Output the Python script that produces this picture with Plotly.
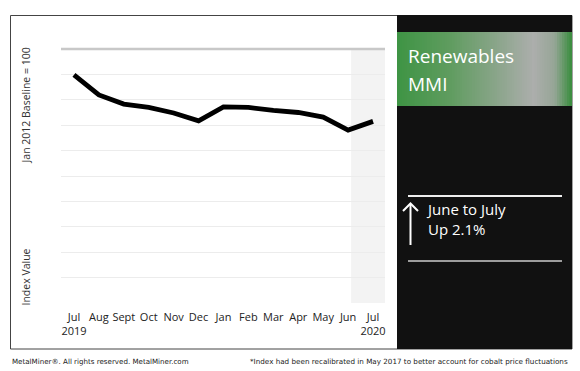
import plotly.graph_objects as go

months = ["Jul", "Aug", "Sept", "Oct", "Nov", "Dec", "Jan", "Feb", "Mar", "Apr", "May", "Jun", "Jul"]
tick_labels = ["Jul<br>2019", "Aug", "Sept", "Oct", "Nov", "Dec", "Jan", "Feb", "Mar", "Apr", "May", "Jun", "Jul<br>2020"]
index_values = [89.8, 81.9, 78.3, 77.0, 74.8, 71.7, 77.2, 77.0, 75.8, 75.0, 73.2, 68.1, 71.5]

title_lines = ["Renewables", "MMI"]
change_lines = ["June to July", "Up 2.1%"]
y_title_top = "Jan 2012 Baseline = 100"
y_title_bottom = "Index Value"
footer_left = "MetalMiner®. All rights reserved. MetalMiner.com"
footer_right = "*Index had been recalibrated in May 2017 to better account for cobalt price fluctuations"

W, H = 580, 371
L, R, T, B = 61, 385, 49, 303


def px(x):
    return (x - L) / (R - L)


def py(y):
    return (B - y) / (B - T)


xs = list(range(len(months)))
fig = go.Figure()
fig.add_trace(go.Scatter(
    x=xs, y=index_values, mode="lines",
    line=dict(color="#000000", width=4.8),
    hoverinfo="skip", showlegend=False,
))

shapes = []
# outer frame
shapes.append(dict(type="rect", xref="paper", yref="paper", x0=px(10.5), x1=px(572), y0=py(349), y1=py(15.5),
                   line=dict(color="#444444", width=1), fillcolor="rgba(0,0,0,0)", layer="below"))
# shaded latest-month region
shapes.append(dict(type="rect", xref="x", yref="paper", x0=11.12, x1=12.48, y0=0, y1=1,
                   line=dict(width=0), fillcolor="#f3f3f3", layer="below"))
# top baseline line
shapes.append(dict(type="line", xref="paper", yref="paper", x0=0, x1=1, y0=1, y1=1,
                   line=dict(color="#c8c8c8", width=2.5), layer="above"))
# black panel
shapes.append(dict(type="rect", xref="paper", yref="paper", x0=px(397), x1=px(572), y0=py(349), y1=py(15),
                   line=dict(width=0), fillcolor="#111111", layer="above"))

# gradient box
stops = [(0.0, (62, 148, 68)), (0.3, (95, 156, 95)), (0.55, (135, 164, 135)),
         (0.78, (172, 174, 172)), (0.9, (150, 166, 150)), (1.0, (55, 140, 60))]


def col(t):
    for (a, ca), (b, cb) in zip(stops[:-1], stops[1:]):
        if a <= t <= b:
            f = (t - a) / (b - a)
            return "rgb(%d,%d,%d)" % tuple(round(ca[i] + (cb[i] - ca[i]) * f) for i in range(3))
    return "rgb(%d,%d,%d)" % stops[-1][1]


gx0, gx1, gy0, gy1 = 397, 572, 32, 106
n = 70
for i in range(n):
    a = gx0 + (gx1 - gx0) * i / n
    b = gx0 + (gx1 - gx0) * (i + 1) / n + 0.6
    shapes.append(dict(type="rect", xref="paper", yref="paper", x0=px(a), x1=px(min(b, gx1)), y0=py(gy1), y1=py(gy0),
                       line=dict(width=0), fillcolor=col((i + 0.5) / n), layer="above"))

# white divider lines
shapes.append(dict(type="line", xref="paper", yref="paper", x0=px(408), x1=px(562), y0=py(196), y1=py(196),
                   line=dict(color="#eeeeee", width=2), layer="above"))
shapes.append(dict(type="line", xref="paper", yref="paper", x0=px(408), x1=px(562), y0=py(261), y1=py(261),
                   line=dict(color="#cccccc", width=1.5), layer="above"))
# arrow
shapes.append(dict(type="line", xref="paper", yref="paper", x0=px(410.5), x1=px(410.5), y0=py(245), y1=py(204),
                   line=dict(color="#ffffff", width=2), layer="above"))
shapes.append(dict(type="path", xref="paper", yref="paper",
                   path="M %f %f L %f %f L %f %f" % (px(403), py(211), px(410.5), py(203.5), px(418), py(211)),
                   line=dict(color="#ffffff", width=2), layer="above"))

annotations = []
for i, t in enumerate(title_lines):
    annotations.append(dict(text=t, xref="paper", yref="paper", x=px(406), y=py(56 + 28 * i),
                            xanchor="left", yanchor="middle", showarrow=False,
                            font=dict(family="Open Sans", size=19, color="#ffffff")))
annotations.append(dict(text="<br>".join(change_lines), xref="paper", yref="paper", x=px(424), y=py(219.5),
                        xanchor="left", yanchor="middle", align="left", showarrow=False,
                        font=dict(family="Open Sans", size=15, color="#ffffff")))
annotations.append(dict(text=y_title_top, xref="paper", yref="paper", x=px(25.5), y=py(106),
                        xanchor="center", yanchor="middle", textangle=-90, showarrow=False,
                        font=dict(family="Open Sans", size=10.5, color="#333333")))
annotations.append(dict(text=y_title_bottom, xref="paper", yref="paper", x=px(25.5), y=py(277),
                        xanchor="center", yanchor="middle", textangle=-90, showarrow=False,
                        font=dict(family="Open Sans", size=10.5, color="#333333")))
annotations.append(dict(text=footer_left, xref="paper", yref="paper", x=px(10), y=py(361),
                        xanchor="left", yanchor="middle", showarrow=False,
                        font=dict(family="DejaVu Sans", size=7.1, color="#222222")))
annotations.append(dict(text=footer_right, xref="paper", yref="paper", x=px(570), y=py(361),
                        xanchor="right", yanchor="middle", showarrow=False,
                        font=dict(family="DejaVu Sans", size=7.2, color="#222222")))

fig.update_layout(
    width=W, height=H,
    margin=dict(l=L, r=W - R, t=T, b=H - B),
    paper_bgcolor="#ffffff", plot_bgcolor="rgba(0,0,0,0)",
    shapes=shapes, annotations=annotations,
    xaxis=dict(range=[-0.52, 12.48], tickmode="array", tickvals=xs, ticktext=tick_labels,
               showgrid=False, zeroline=False, showline=False, ticks="", ticklabelstandoff=6,
               tickfont=dict(family="Open Sans", size=11, color="#222222"), fixedrange=True),
    yaxis=dict(range=[0, 100], dtick=10, showticklabels=False, showgrid=True, gridcolor="#ececec",
               gridwidth=1, zeroline=False, showline=False, fixedrange=True),
)

fig.write_html("out.html", config={"displayModeBar": False},
               post_script="document.body.style.margin='0';document.body.style.padding='0';")
